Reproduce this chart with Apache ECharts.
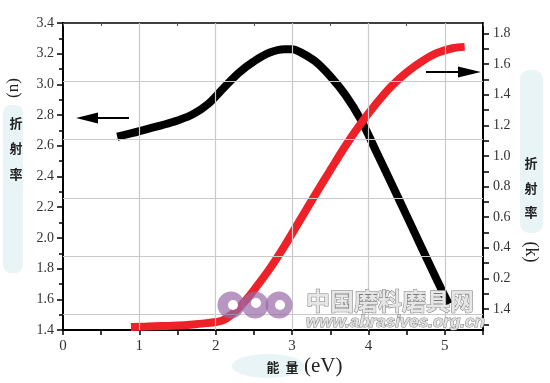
<!DOCTYPE html>
<html>
<head>
<meta charset="utf-8">
<script src="https://cdn.jsdelivr.net/npm/echarts@6/dist/echarts.min.js"></script>
<style>html,body{margin:0;padding:0;background:#fff}#c{width:550px;height:383px}</style>
</head>
<body>
<div id="c"></div>
<script>
// ---- data ----
var blackX = [0.71, 0.9, 1.1, 1.3, 1.5, 1.7, 1.9, 2.1, 2.3, 2.5, 2.7, 2.9, 3.0, 3.1, 3.3, 3.5, 3.7, 3.9, 4.1, 4.3, 4.5, 4.7, 4.9, 5.05];
var blackN = [2.659, 2.682, 2.709, 2.735, 2.765, 2.805, 2.872, 2.975, 3.075, 3.150, 3.206, 3.229, 3.229, 3.212, 3.151, 3.053, 2.930, 2.770, 2.565, 2.356, 2.145, 1.933, 1.722, 1.569];
var redX = [0.89, 1.1, 1.3, 1.5, 1.7, 1.9, 2.0, 2.1, 2.2, 2.3, 2.4, 2.5, 2.7, 2.9, 3.1, 3.3, 3.5, 3.7, 3.9, 4.1, 4.3, 4.5, 4.7, 4.9, 5.1, 5.26];
var redK = [-0.117, -0.114, -0.111, -0.108, -0.101, -0.091, -0.085, -0.072, -0.039, 0.007, 0.062, 0.124, 0.258, 0.411, 0.578, 0.744, 0.907, 1.067, 1.211, 1.341, 1.456, 1.547, 1.619, 1.674, 1.704, 1.713];
var xTickValues = [0, 1, 2, 3, 4, 5];
var xTickLabels = ['0', '1', '2', '3', '4', '5'];
var xMinorTicks = [0, 0.5, 1, 1.5, 2, 2.5, 3, 3.5, 4, 4.5, 5, 5.5];
var leftTickValues = [1.4, 1.6, 1.8, 2.0, 2.2, 2.4, 2.6, 2.8, 3.0, 3.2, 3.4];
var leftTickLabels = ['1.4', '1.6', '1.8', '2.0', '2.2', '2.4', '2.6', '2.8', '3.0', '3.2', '3.4'];
var rightTickValues = [0, 0.2, 0.4, 0.6, 0.8, 1.0, 1.2, 1.4, 1.6, 1.8];
var rightTickLabels = ['1.4', '0.2', '0.4', '0.6', '0.8', '1.0', '1.2', '1.4', '1.6', '1.8'];
var rightMinorTicks = [-0.1, 0, 0.1, 0.2, 0.3, 0.4, 0.5, 0.6, 0.7, 0.8, 0.9, 1.0, 1.1, 1.2, 1.3, 1.4, 1.5, 1.6, 1.7, 1.8];
var hGrid = [1.50, 1.88, 2.26, 2.64, 3.02];
var vGrid = [1, 2, 3, 4, 5];

function zip(a, b) { return a.map(function (v, i) { return [v, b[i]]; }); }
function lookup(vals, labels) {
  return function (v) {
    for (var i = 0; i < vals.length; i++) if (Math.abs(vals[i] - v) < 1e-6) return labels[i];
    return '';
  };
}
var serif = 'Liberation Serif';
var chart = echarts.init(document.getElementById('c'), null, { renderer: 'canvas' });
function cjkText(x, y, t) {
  return { type: 'text', z: 50, x: x, y: y, style: { text: t, font: 'bold 13px "Noto Sans CJK SC"', fill: '#222', textAlign: 'center', textVerticalAlign: 'middle' } };
}
var option = {
  animation: false,
  backgroundColor: '#fff',
  grid: { left: 63, right: 67, top: 23, bottom: 53, containLabel: false, outerBoundsMode: 'none' },
  xAxis: [{
    type: 'value', min: 0, max: 5.5, interval: 1, position: 'bottom',
    axisLine: { show: true, onZero: false, lineStyle: { color: '#000', width: 2 } },
    axisTick: { show: true, customValues: xMinorTicks, length: 5, lineStyle: { color: '#000', width: 1.5 } },
    axisLabel: { customValues: xTickValues, formatter: lookup(xTickValues, xTickLabels), fontFamily: serif, fontSize: 15, color: '#333', margin: 9 },
    splitLine: { show: false }
  }, {
    type: 'value', min: 0, max: 5.5, interval: 1, position: 'top',
    axisLine: { show: true, onZero: false, lineStyle: { color: '#000', width: 1.5 } },
    axisTick: { show: true, inside: true, customValues: xMinorTicks, length: 3, lineStyle: { color: '#555', width: 1 } },
    axisLabel: { show: false },
    splitLine: { show: false }
  }],
  yAxis: [{
    type: 'value', min: 1.4, max: 3.4, interval: 0.2, position: 'left',
    axisLine: { show: true, onZero: false, lineStyle: { color: '#000', width: 2 } },
    axisTick: { show: true, length: 6, lineStyle: { color: '#000', width: 1.5 } },
    minorTick: { show: true, splitNumber: 2, length: 4, lineStyle: { color: '#000', width: 1.5 } },
    axisLabel: { customValues: leftTickValues, formatter: lookup(leftTickValues, leftTickLabels), fontFamily: serif, fontSize: 14, color: '#333', margin: 9 },
    splitLine: { show: false }
  }, {
    type: 'value', min: -0.137, max: 1.869, position: 'right',
    axisLine: { show: true, onZero: false, lineStyle: { color: '#000', width: 2 } },
    axisTick: { show: true, customValues: rightMinorTicks, length: 6, lineStyle: { color: '#000', width: 1.5 } },
    axisLabel: { customValues: rightTickValues, formatter: lookup(rightTickValues, rightTickLabels), fontFamily: serif, fontSize: 14, color: '#333', margin: 10 },
    splitLine: { show: false }
  }],
  series: [{
    type: 'line', xAxisIndex: 0, yAxisIndex: 0, z: 1, silent: true,
    data: zip(blackX, blackN), showSymbol: false, lineStyle: { opacity: 0 },
    markLine: {
      silent: true, symbol: 'none', label: { show: false }, animation: false,
      lineStyle: { color: '#c9c9c9', width: 1.2, type: 'solid' },
      data: hGrid.map(function (v) { return { yAxis: v }; }).concat(vGrid.map(function (v) { return { xAxis: v }; }))
    }
  }, {
    name: 'n', type: 'line', xAxisIndex: 0, yAxisIndex: 0, z: 3,
    data: zip(blackX, blackN), smooth: 0.35, showSymbol: false,
    lineStyle: { color: '#000', width: 8, cap: 'butt' }
  }, {
    name: 'k', type: 'line', xAxisIndex: 0, yAxisIndex: 1, z: 4,
    data: zip(redX, redK), smooth: 0.35, showSymbol: false,
    lineStyle: { color: '#ee2129', width: 8, cap: 'butt' }
  }],
  graphic: [
    { type: 'rect', z: -10, shape: { x: 3, y: 105, width: 20, height: 168, r: 8 }, style: { fill: '#e9f4f6' } },
    { type: 'rect', z: -10, shape: { x: 520, y: 70, width: 23, height: 163, r: 9 }, style: { fill: '#e9f4f6' } },
    { type: 'ellipse', z: -10, shape: { cx: 268, cy: 366, rx: 36, ry: 12 }, style: { fill: '#e9f4f6' } },
    { type: 'text', z: 50, x: 14, y: 88, rotation: Math.PI / 2, style: { text: '(n)', font: '17px "Liberation Serif"', fill: '#222', textAlign: 'center', textVerticalAlign: 'middle' } },
    cjkText(16, 123, '折'), cjkText(16, 148, '射'), cjkText(16, 174, '率'),
    cjkText(531, 163, '折'), cjkText(531, 188, '射'), cjkText(531, 212, '率'),
    { type: 'text', z: 50, x: 531, y: 252, rotation: -Math.PI / 2, style: { text: '(k)', font: '18px "Liberation Serif"', fill: '#222', textAlign: 'center', textVerticalAlign: 'middle' } },
    cjkText(273, 367, '能'), cjkText(292, 367, '量'),
    { type: 'text', z: 50, x: 304, y: 366, style: { text: '(eV)', font: '21px "Liberation Serif"', fill: '#222', textAlign: 'left', textVerticalAlign: 'middle' } },
    { type: 'line', z: 50, shape: { x1: 96, y1: 118, x2: 129, y2: 118 }, style: { stroke: '#000', lineWidth: 2 } },
    { type: 'polygon', z: 50, shape: { points: [[76, 118], [98, 112.5], [98, 123.5]] }, style: { fill: '#000' } },
    { type: 'line', z: 50, shape: { x1: 426, y1: 72, x2: 460, y2: 72 }, style: { stroke: '#000', lineWidth: 2 } },
    { type: 'polygon', z: 50, shape: { points: [[481, 72], [458, 66.5], [458, 77.5]] }, style: { fill: '#000' } },
    { type: 'circle', z: 60, shape: { cx: 231, cy: 305, r: 13.5 }, style: { fill: '#9a6aa8', opacity: 0.7 } },
    { type: 'circle', z: 60, shape: { cx: 255, cy: 305, r: 13.5 }, style: { fill: '#9a6aa8', opacity: 0.7 } },
    { type: 'circle', z: 60, shape: { cx: 279, cy: 305, r: 13.5 }, style: { fill: '#9a6aa8', opacity: 0.7 } },
    { type: 'circle', z: 61, shape: { cx: 233, cy: 305, r: 5 }, style: { fill: '#fff' } },
    { type: 'circle', z: 61, shape: { cx: 256, cy: 303, r: 5 }, style: { fill: '#fff' } },
    { type: 'circle', z: 61, shape: { cx: 280, cy: 305, r: 5 }, style: { fill: '#fff' } },
    { type: 'text', z: 60, x: 306, y: 301, style: { text: '中国磨料磨具网', font: 'bold 24px "Noto Sans CJK SC"', fill: '#e6e6e6', stroke: '#7a7a7a', lineWidth: 1, textAlign: 'left', textVerticalAlign: 'middle' } },
    { type: 'text', z: 60, x: 306, y: 322, style: { text: 'www.abrasives.org.cn', font: 'italic bold 17px "Liberation Sans"', fill: '#e0e0e0', stroke: '#808080', lineWidth: 1, textAlign: 'left', textVerticalAlign: 'middle' } }
  ]
};
chart.setOption(option);
</script>
</body>
</html>
